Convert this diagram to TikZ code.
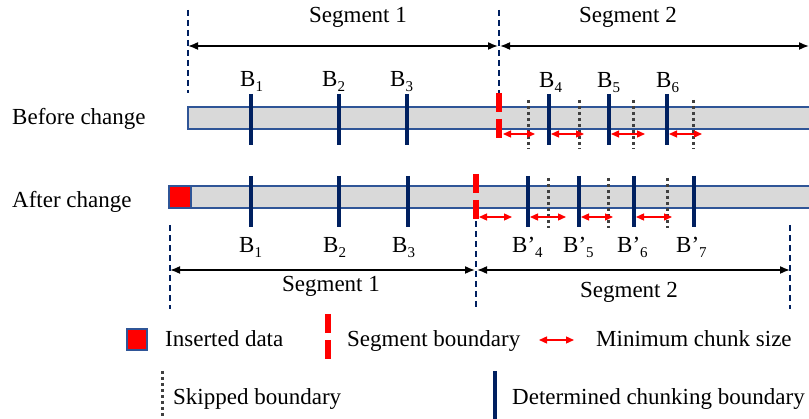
\documentclass[tikz,border=0pt]{standalone}
\usepackage{fontspec}
\setmainfont{Liberation Serif}
\usetikzlibrary{arrows.meta}
\definecolor{navy}{RGB}{0,32,96}
\definecolor{barblue}{RGB}{47,85,151}
\definecolor{bargray}{RGB}{217,217,217}
\definecolor{dotgray}{RGB}{64,64,64}
\newcommand\subx[1]{\raisebox{-5pt}{\fontsize{15}{15}\selectfont #1}}
\begin{document}
\begin{tikzpicture}[x=1pt,y=-1pt,
 lbl/.style={font=\fontsize{23}{27}\selectfont, inner sep=0pt, anchor=base west},
 lblc/.style={lbl, anchor=base},
 segline/.style={navy, line width=1.6pt, dash pattern=on 6pt off 4pt},
 detb/.style={navy, line width=3.2pt},
 skipb/.style={dotgray, line width=3pt, dash pattern=on 3pt off 3pt},
 segb/.style={red, line width=6pt, dash pattern=on 19pt off 7pt},
 minarrow/.style={red, line width=1.3pt, {Triangle[length=8pt,width=7pt]}-{Triangle[length=8pt,width=7pt]}},
 segarrow/.style={black, line width=1.6pt, {Latex[length=10pt,width=8pt]}-{Latex[length=10pt,width=8pt]}},
 bar/.style={draw=barblue, line width=1.2pt, fill=bargray},
]
\useasboundingbox (0,0) rectangle (809,419);
\begin{scope}
\clip (0,0) rectangle (809,419);

% ---------- Before change ----------
\node[lbl] (before) at (12,125) {Before change};
\draw[bar] (188,107) rectangle (820,129);

\coordinate (d1t) at (188,10); \coordinate (d1b) at (188,93);
\coordinate (d2t) at (499,10); \coordinate (d2b) at (499,93);
\draw[segline] (d1t) -- (d1b);
\draw[segline] (d2t) -- (d2b);

\coordinate (s1l) at (188,46); \coordinate (s1r) at (498,46);
\coordinate (s2l) at (500,46); \coordinate (s2r) at (809,46);
\draw[segarrow] (s1l) -- (s1r);
\draw[segarrow] (s2l) -- (s2r);
\node[lblc] (seg1top) at (358,23) {Segment 1};
\node[lblc] (seg2top) at (628,23) {Segment 2};

\foreach \x/\n in {251/a1,339/a2,407/a3,549/a4,609/a5,667/a6}{
  \coordinate (\n t) at (\x,94); \coordinate (\n b) at (\x,145);
  \draw[detb] (\n t) -- (\n b);
}
\foreach \x/\n in {528/k1,579/k2,633/k3,693/k4}{
  \coordinate (\n t) at (\x,100); \coordinate (\n b) at (\x,149);
  \draw[skipb] (\n t) -- (\n b);
}
\coordinate (rb1t) at (499,93); \coordinate (rb1b) at (499,140);
\draw[segb] (rb1t) -- (rb1b);

\node[lbl] (bB1) at (240,87) {B\subx{1}};
\node[lbl] (bB2) at (322,87) {B\subx{2}};
\node[lbl] (bB3) at (390,87) {B\subx{3}};
\node[lbl] (bB4) at (539,88) {B\subx{4}};
\node[lbl] (bB5) at (597,88) {B\subx{5}};
\node[lbl] (bB6) at (656,88) {B\subx{6}};

\foreach \a/\b/\n in {503/535/m1,551/584/m2,611/645/m3,669/702/m4}{
  \coordinate (\n l) at (\a,134); \coordinate (\n r) at (\b,134);
  \draw[minarrow] (\n l) -- (\n r);
}

% ---------- After change ----------
\node[lbl] (after) at (12,208) {After change};
\draw[bar] (169,186) rectangle (820,208);
\draw[draw=barblue, line width=1.2pt, fill=red] (169,186) rectangle (191,208);

\foreach \x/\n in {251/c1,339/c2,408/c3,528/c4,579/c5,634/c6,694/c7}{
  \coordinate (\n t) at (\x,176); \coordinate (\n b) at (\x,227);
  \draw[detb] (\n t) -- (\n b);
}
\foreach \x/\n in {548/q1,608/q2,667/q3}{
  \coordinate (\n t) at (\x,178); \coordinate (\n b) at (\x,228);
  \draw[skipb] (\n t) -- (\n b);
}
\coordinate (rb2t) at (476,174); \coordinate (rb2b) at (476,220);
\draw[segb] (rb2t) -- (rb2b);

\coordinate (e1t) at (170,225); \coordinate (e1b) at (170,309);
\coordinate (e2t) at (476,221); \coordinate (e2b) at (476,309);
\coordinate (e3t) at (790,225); \coordinate (e3b) at (790,309);
\draw[segline] (e1t) -- (e1b);
\draw[segline] (e2t) -- (e2b);
\draw[segline] (e3t) -- (e3b);

\foreach \a/\b/\n in {479/512/n1,530/566/n2,581/613/n3,636/672/n4}{
  \coordinate (\n l) at (\a,217); \coordinate (\n r) at (\b,217);
  \draw[minarrow] (\n l) -- (\n r);
}

\node[lbl] (aB1) at (239,253) {B\subx{1}};
\node[lbl] (aB2) at (323,253) {B\subx{2}};
\node[lbl] (aB3) at (392,253) {B\subx{3}};
\node[lbl] (aB4) at (512,253) {B’\subx{4}};
\node[lbl] (aB5) at (563,253) {B’\subx{5}};
\node[lbl] (aB6) at (617,253) {B’\subx{6}};
\node[lbl] (aB7) at (676,253) {B’\subx{7}};

\coordinate (t1l) at (170,270); \coordinate (t1r) at (475,270);
\coordinate (t2l) at (477,270); \coordinate (t2r) at (790,270);
\draw[segarrow] (t1l) -- (t1r);
\draw[segarrow] (t2l) -- (t2r);
\node[lblc] (seg1bot) at (331,292) {Segment 1};
\node[lblc] (seg2bot) at (629,298) {Segment 2};

% ---------- Legend ----------
\draw[draw=barblue, line width=1.2pt, fill=red] (127,329) rectangle (147,350);
\node[lbl] (lg1) at (165,347) {Inserted data};
\coordinate (lrt) at (328,314); \coordinate (lrb) at (328,359);
\draw[red, line width=6pt, dash pattern=on 19pt off 7pt] (lrt) -- (lrb);
\node[lbl] (lg2) at (347,347) {Segment boundary};
\coordinate (lal) at (539,340); \coordinate (lar) at (574,340);
\draw[minarrow] (lal) -- (lar);
\node[lbl] (lg3) at (596,347) {Minimum chunk size};
\coordinate (lst) at (162,371); \coordinate (lsb) at (162,420);
\draw[skipb] (lst) -- (lsb);
\node[lbl] (lg4) at (173,405) {Skipped boundary};
\coordinate (ldt) at (495,371); \coordinate (ldb) at (495,420);
\draw[detb] (ldt) -- (ldb);
\node[lbl] (lg5) at (512,405) {Determined chunking boundary};
\end{scope}
\end{tikzpicture}
\end{document}
